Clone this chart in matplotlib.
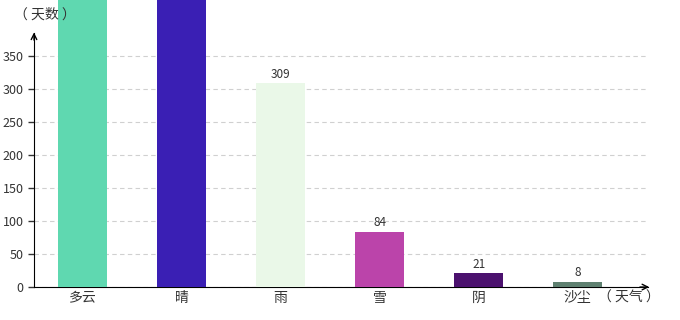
import matplotlib
matplotlib.use("Agg")
import matplotlib.pyplot as plt
import numpy as np

plt.rcParams['font.family'] = ['Noto Sans CJK SC', 'DejaVu Sans']

weather = ['多云', '晴', '雨', '雪', '阴', '沙尘']
days = [520, 480, 309, 84, 21, 8]
colors = ['#5fd8b0', '#3a1fb4', '#eaf8e8', '#bb44aa', '#4b116e', '#5e8070']
yticks = [0, 50, 100, 150, 200, 250, 300, 350]

fig = plt.figure(figsize=(6.8, 3.2), dpi=100)
ax = fig.add_axes([0.05, 0.103, 0.903, 0.897])

ymax = 435
x = np.arange(len(weather))
ax.bar(x, days, width=0.5, color=colors, zorder=3)
# value labels (those above the top are cut off in the original)
for xi, v in zip(x, days):
    if v + 20 < ymax:
        ax.text(xi, v + 4, str(v), ha='center', va='bottom', fontsize=8.5,
                color='#333333', zorder=4)

ax.set_xlim(-0.49, 5.71)
ax.set_ylim(0, ymax)
ax.set_yticks(yticks)
ax.set_xticks(x)
ax.set_xticklabels(weather, fontsize=10, color='#333333')
ax.tick_params(axis='y', labelsize=9, colors='#333333', length=4, width=1)
ax.tick_params(axis='x', length=0, pad=3)
ax.yaxis.grid(True, linestyle=(0, (4, 3)), color='#d0d0d0', linewidth=0.8, zorder=0)

for s in ['top', 'right']:
    ax.spines[s].set_visible(False)
ax.spines['left'].set_bounds(0, 385)
ax.spines['bottom'].set_bounds(-0.49, 5.71)

# arrow heads
ax.annotate('', xy=(-0.49, 390), xytext=(-0.49, 370),
            arrowprops=dict(arrowstyle='->', color='black', lw=1), annotation_clip=False)
ax.annotate('', xy=(5.75, 0), xytext=(5.6, 0),
            arrowprops=dict(arrowstyle='->', color='black', lw=1), annotation_clip=False)

fig.text(14/680, 1 - 15/320, '（ 天数 ）', fontsize=10, color='#333333', va='center')
fig.text(598/680, 1 - 298/320, '（ 天气 ）', fontsize=10, color='#333333', va='center')

fig.savefig('out.png', dpi=100)
